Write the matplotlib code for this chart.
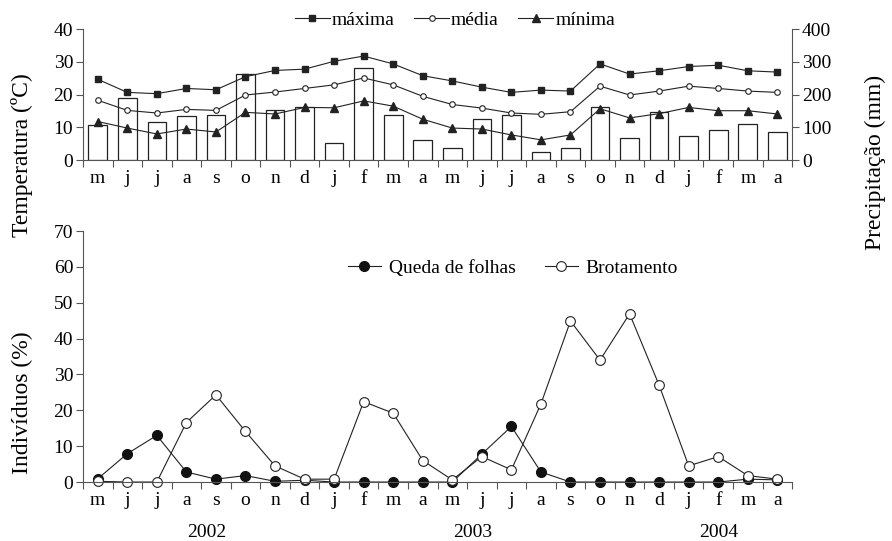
import matplotlib
matplotlib.use("Agg")
import matplotlib.pyplot as plt
import numpy as np
from matplotlib.transforms import blended_transform_factory

plt.rcParams["font.family"] = ["Liberation Serif", "DejaVu Serif"]
plt.rcParams["font.size"] = 14

# monthly values, May 2002 - Apr 2004
months = ["m", "j", "j", "a", "s", "o", "n", "d", "j", "f", "m", "a",
          "m", "j", "j", "a", "s", "o", "n", "d", "j", "f", "m", "a"]
t_max = [24.7, 20.7, 20.3, 21.9, 21.5, 25.5, 27.4, 27.8, 30.2, 31.8, 29.4, 25.8,
         24.2, 22.3, 20.7, 21.4, 21.1, 29.4, 26.3, 27.3, 28.6, 29.0, 27.3, 26.9]
t_mean = [18.3, 15.2, 14.4, 15.5, 15.2, 19.9, 20.8, 21.9, 23.0, 25.1, 23.0, 19.5,
          17.0, 15.9, 14.4, 14.0, 14.8, 22.6, 19.9, 21.1, 22.6, 21.9, 21.1, 20.7]
t_min = [11.8, 9.8, 8.0, 9.5, 8.6, 14.6, 14.1, 16.1, 16.0, 18.1, 16.5, 12.5,
         9.8, 9.5, 7.7, 6.2, 7.7, 15.7, 12.9, 14.2, 16.1, 15.1, 15.1, 14.1]
precip = [106, 189, 118, 134, 137, 264, 154, 161, 51, 283, 137, 62,
          36, 125, 137, 24, 36, 162, 69, 146, 75, 91, 109, 86]
queda = [0.9, 7.9, 13.0, 2.8, 0.8, 1.8, 0.2, 0.5, 0.0, 0.0, 0.0, 0.0,
         0.0, 7.8, 15.5, 2.8, 0.0, 0.0, 0.0, 0.0, 0.0, 0.0, 0.8, 0.6]
brot = [0.2, 0.0, 0.0, 16.6, 24.3, 14.1, 4.5, 0.8, 0.8, 22.4, 19.2, 6.0,
        0.6, 7.1, 3.4, 21.8, 44.9, 34.0, 46.9, 27.0, 4.5, 7.1, 1.8, 0.8]
years = ["2002", "2003", "2004"]
year_pos = [3.7, 12.7, 21.0]

SPINE = "#555555"
x = np.arange(len(months))

fig = plt.figure(figsize=(8.92, 5.41), dpi=100)
ax_t = fig.add_axes([0.093, 0.704, 0.795, 0.242])
ax_b = fig.add_axes([0.093, 0.109, 0.795, 0.464])


def style_axis(ax):
    ax.set_xlim(-0.5, len(months) - 0.5)
    ax.set_xticks(np.arange(len(months) + 1) - 0.5)
    ax.set_xticklabels([])
    ax.set_xticks(x, minor=True)
    ax.set_xticklabels(months, minor=True)
    ax.tick_params(axis="x", which="major", direction="out", length=5, color=SPINE)
    ax.tick_params(axis="x", which="minor", length=0, pad=7)
    ax.tick_params(axis="y", direction="out", length=5, color=SPINE, pad=2)
    for s in ["top", "right"]:
        ax.spines[s].set_visible(False)
    for s in ["left", "bottom"]:
        ax.spines[s].set_color(SPINE)


# top panel: precipitation bars behind temperature lines
ax_p = ax_t.twinx()
ax_p.bar(x, precip, width=0.63, color="white", edgecolor="#222222", linewidth=0.9)
ax_p.set_ylim(0, 400)
ax_p.set_yticks([0, 100, 200, 300, 400])
ax_p.tick_params(axis="y", direction="out", length=5, color=SPINE, pad=2)
for s in ["top", "left", "bottom"]:
    ax_p.spines[s].set_visible(False)
ax_p.spines["right"].set_color(SPINE)
ax_p.set_ylabel("Precipitação (mm)", fontsize=17)
ax_p.yaxis.set_label_coords(1.103, -0.02)

ax_t.set_zorder(ax_p.get_zorder() + 1)
ax_t.patch.set_visible(False)
ax_t.plot(x, t_max, color="#222222", lw=0.8, marker="s", ms=4.5, label="máxima")
ax_t.plot(x, t_mean, color="#222222", lw=0.8, marker="o", ms=4, mfc="white",
          mew=0.8, label="média")
ax_t.plot(x, t_min, color="#222222", lw=0.8, marker="^", ms=5.5, label="mínima")
ax_t.set_ylim(0, 40)
ax_t.set_yticks([0, 10, 20, 30, 40])
style_axis(ax_t)
ax_t.set_ylabel("Temperatura (ºC)", fontsize=17)
ax_t.yaxis.set_label_coords(-0.07, 0.04)
ax_t.legend(loc="center", bbox_to_anchor=(0.51, 0.963), bbox_transform=fig.transFigure,
            ncol=3, frameon=False, handlelength=1.8, handletextpad=0.1,
            columnspacing=1.0, borderpad=0, fontsize=14)

# bottom panel: leaf fall and budding
ax_b.plot(x, queda, color="#222222", lw=0.8, marker="o", ms=7, mfc="#111111",
          mec="#111111", clip_on=False, label="Queda de folhas")
ax_b.plot(x, brot, color="#222222", lw=0.8, marker="o", ms=7, mfc="white",
          mec="#222222", mew=0.8, clip_on=False, label="Brotamento")
ax_b.set_ylim(0, 70)
ax_b.set_yticks(np.arange(0, 71, 10))
style_axis(ax_b)
ax_b.set_ylabel("Indivíduos (%)", fontsize=17)
ax_b.yaxis.set_label_coords(-0.07, 0.315)
ax_b.legend(loc="center", bbox_to_anchor=(0.575, 0.505), bbox_transform=fig.transFigure,
            ncol=2, frameon=False, handlelength=1.7, handletextpad=0.4,
            columnspacing=1.5, borderpad=0, fontsize=14)

trans = blended_transform_factory(ax_b.transData, ax_b.transAxes)
for yr, pos in zip(years, year_pos):
    ax_b.text(pos, -0.2, yr, transform=trans, ha="center", va="center", fontsize=14)

fig.savefig("out.png", dpi=100)
